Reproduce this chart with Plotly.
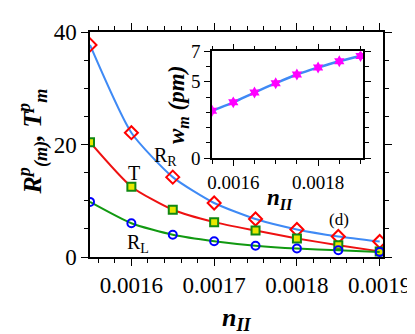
import plotly.graph_objects as go

n_II = [0.00155, 0.0016, 0.00165, 0.0017, 0.00175, 0.0018, 0.00185, 0.0019]
R_R = [37.7, 22.1, 14.2, 9.6, 6.75, 4.9, 3.65, 2.75]
T_m = [20.4, 12.5, 8.4, 6.2, 4.7, 3.3, 2.1, 1.0]
R_L = [9.8, 6.0, 3.95, 2.8, 2.0, 1.5, 1.2, 0.9]
w_m = [3.11, 3.66, 4.30, 4.91, 5.48, 5.94, 6.35, 6.69]

main_xticks = [0.0016, 0.0017, 0.0018, 0.0019]
main_yticks = [0, 20, 40]
inset_xticks = [0.0016, 0.0018]
inset_yticks = [0, 5, 7]

FONT = "Liberation Serif"
L, T, W, H = 82, 12, 300, 237

def px(x):
    return (x - L) / W

def py(y):
    return (T + H - y) / H

fig = go.Figure()
fig.add_trace(go.Scatter(x=n_II, y=R_R, mode="lines+markers", line=dict(color="#3f8af5", width=2, shape="spline", smoothing=0.6),
                         marker=dict(symbol="diamond-open", color="#ff0000", size=10, line=dict(width=2))))
fig.add_trace(go.Scatter(x=n_II, y=T_m, mode="lines+markers", line=dict(color="#ee1111", width=2, shape="spline", smoothing=0.6),
                         marker=dict(symbol="square", color="#e8e800", size=8, line=dict(width=2, color="#118811"))))
fig.add_trace(go.Scatter(x=n_II, y=R_L, mode="lines+markers", line=dict(color="#119911", width=2, shape="spline", smoothing=0.6),
                         marker=dict(symbol="circle-open", color="#0000ff", size=8, line=dict(width=2))))
fig.add_trace(go.Scatter(x=n_II, y=w_m, mode="lines+markers", xaxis="x2", yaxis="y2",
                         line=dict(color="#3f8af5", width=2.5, shape="spline"),
                         marker=dict(symbol="hexagram", color="#ff00ff", size=9)))

axis_common = dict(showline=True, linecolor="black", linewidth=1.5, mirror="ticks", ticks="outside",
                   tickcolor="black", showgrid=False, zeroline=False, tickfont=dict(family=FONT, size=23, color="black"))

fig.update_layout(
    width=415, height=334, margin=dict(l=L, r=415 - L - W, t=T, b=334 - T - H),
    plot_bgcolor="white", paper_bgcolor="white", showlegend=False,
    font=dict(family=FONT, color="black"),
    xaxis=dict(**axis_common, range=[0.00155, 0.001904], tickvals=main_xticks,
               ticktext=[f"{v:.4f}" for v in main_xticks], ticklen=7, tickwidth=1.2,
               minor=dict(dtick=0.00002, tick0=0.0016, ticks="outside", ticklen=4, tickcolor="black")),
    yaxis=dict(**axis_common, range=[0, 40], tickvals=main_yticks, ticktext=[str(v) for v in main_yticks],
               ticklen=7, tickwidth=1.2,
               minor=dict(dtick=5, tick0=0, ticks="outside", ticklen=4, tickcolor="black")),
    xaxis2=dict(showline=True, linecolor="black", linewidth=1.5, mirror="ticks", ticks="outside", tickcolor="black",
                showgrid=False, zeroline=False, tickfont=dict(family=FONT, size=19, color="black"),
                domain=[px(207), px(362)], anchor="y2", range=[0.00155, 0.001907], tickvals=inset_xticks,
                ticktext=[f"{v:.4f}" for v in inset_xticks], ticklen=6,
                minor=dict(dtick=0.00005, tick0=0.0016, ticks="outside", ticklen=4, tickcolor="black")),
    yaxis2=dict(showline=True, linecolor="black", linewidth=1.5, mirror="ticks", ticks="outside", tickcolor="black",
                showgrid=False, zeroline=False, tickfont=dict(family=FONT, size=19, color="black"),
                domain=[py(145), py(32.3)], anchor="x2", range=[0, 7], tickvals=inset_yticks,
                ticktext=[str(v) for v in inset_yticks], ticklen=6,
                minor=dict(dtick=1, tick0=0, ticks="outside", ticklen=4, tickcolor="black")),
)

def ann(text, x, y, size, angle=0):
    fig.add_annotation(text=text, x=px(x), y=py(y), xref="paper", yref="paper", showarrow=False,
                       xanchor="center", yanchor="middle", textangle=angle,
                       font=dict(family=FONT, size=size, color="black"))

ann("R<sub>R</sub>", 159, 143, 20)
ann("T", 127, 161, 20)
ann("R<sub>L</sub>", 131, 235, 20)
ann("(d)", 337, 210, 17)
ann("<b><i>n<sub>II</sub></i></b>", 277, 188, 23)
ann("<b><i>n<sub>II</sub></i></b>", 232, 314, 26)
ann("<b><i>R<sup>p</sup><sub>(m)</sub>, T<sup>p</sup><sub>m</sub></i></b>", 23, 127, 26, -90)
ann("<b><i>w<sub>m</sub> (pm)</i></b>", 172, 89, 23, -90)

fig.write_html("out.html")
